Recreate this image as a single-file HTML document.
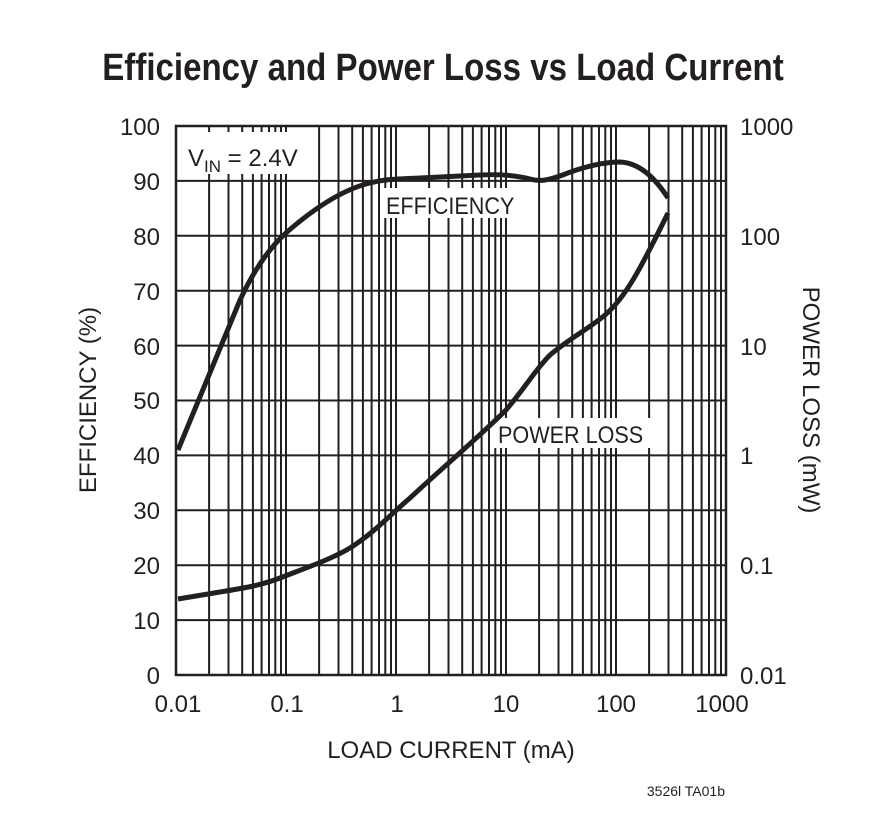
<!DOCTYPE html>
<html><head><style>
body{margin:0;background:#fff;width:887px;height:825px;overflow:hidden}
svg{display:block}
text{font-family:"Liberation Sans",sans-serif;fill:#231f20}
</style></head><body>
<svg width="887" height="825" viewBox="0 0 887 825">
<text x="443" y="80" text-anchor="middle" font-size="38" font-weight="bold" transform="translate(443 0) scale(0.87 1) translate(-443 0)">Efficiency and Power Loss vs Load Current</text>
<path stroke="#231f20" stroke-width="2" fill="none" d="
M209.1,126V675M228.5,126V675M242.2,126V675M252.9,126V675M261.6,126V675M269,126V675M275.3,126V675M281,126V675
M286,126V675M319.1,126V675M338.5,126V675M352.2,126V675M362.9,126V675M371.6,126V675M379,126V675M385.3,126V675M391,126V675
M396,126V675M429.1,126V675M448.5,126V675M462.2,126V675M472.9,126V675M481.6,126V675M489,126V675M495.3,126V675M501,126V675
M506,126V675M539.1,126V675M558.5,126V675M572.2,126V675M582.9,126V675M591.6,126V675M599,126V675M605.3,126V675M611,126V675
M616,126V675M649.1,126V675M668.5,126V675M682.2,126V675M692.9,126V675M701.6,126V675M709,126V675M715.3,126V675M721,126V675
M176,180.9H726M176,235.8H726M176,290.7H726M176,345.6H726M176,400.5H726M176,455.4H726M176,510.3H726M176,565.2H726M176,620.1H726"/>
<rect x="176" y="126" width="550" height="549" fill="none" stroke="#231f20" stroke-width="2.5"/>
<rect x="182" y="132" width="128" height="42" fill="#fff"/>
<text x="188" y="166" font-size="24">V<tspan font-size="17" dy="6">IN</tspan><tspan dy="-6"> = 2.4V</tspan></text>
<rect x="382" y="188" width="146" height="30" fill="#fff"/>
<text x="386" y="214" font-size="24" transform="translate(386 0) scale(0.9 1) translate(-386 0)">EFFICIENCY</text>
<rect x="494" y="418" width="170" height="30" fill="#fff"/>
<text x="498" y="443" font-size="24" transform="translate(498 0) scale(0.9 1) translate(-498 0)">POWER LOSS</text>
<path d="M178,450 C195,410 215,360 240,300 C255,268 270,247 287,232 C310,212 340,190 370,183 C385,179 397,179 420,178 L480,175 C500,174 515,175 530,179 C540,182 548,180 560,176 C580,168 600,162 620,162 C640,163 655,178 668,198" fill="none" stroke="#231f20" stroke-width="5"/>
<path d="M178,599 L220,592 C245,588 262,585 280,578 C300,570 330,560 350,548 C375,532 390,515 410,498 C440,470 480,436 506,410 C525,388 535,370 550,355 C570,338 590,328 605,315 C625,298 640,270 668,213" fill="none" stroke="#231f20" stroke-width="5"/>
<g font-size="24" text-anchor="end">
<text x="160" y="135">100</text><text x="160" y="190">90</text><text x="160" y="245">80</text><text x="160" y="300">70</text><text x="160" y="355">60</text><text x="160" y="409">50</text><text x="160" y="464">40</text><text x="160" y="519">30</text><text x="160" y="574">20</text><text x="160" y="629">10</text><text x="160" y="684">0</text>
</g>
<g font-size="24">
<text x="740" y="135">1000</text><text x="740" y="245">100</text><text x="740" y="355">10</text><text x="740" y="464">1</text><text x="740" y="574">0.1</text><text x="740" y="684">0.01</text>
</g>
<g font-size="24" text-anchor="middle">
<text x="178" y="712">0.01</text><text x="287" y="712">0.1</text><text x="397" y="712">1</text><text x="506" y="712">10</text><text x="616" y="712">100</text><text x="722" y="712">1000</text>
</g>
<text x="451" y="758" font-size="24" text-anchor="middle">LOAD CURRENT (mA)</text>
<text transform="translate(96 400) rotate(-90)" font-size="24" text-anchor="middle">EFFICIENCY (%)</text>
<text transform="translate(803 400) rotate(90)" font-size="24" text-anchor="middle">POWER LOSS (mW)</text>
<text x="725" y="796" font-size="14" text-anchor="end">3526l TA01b</text>
</svg>
</body></html>
